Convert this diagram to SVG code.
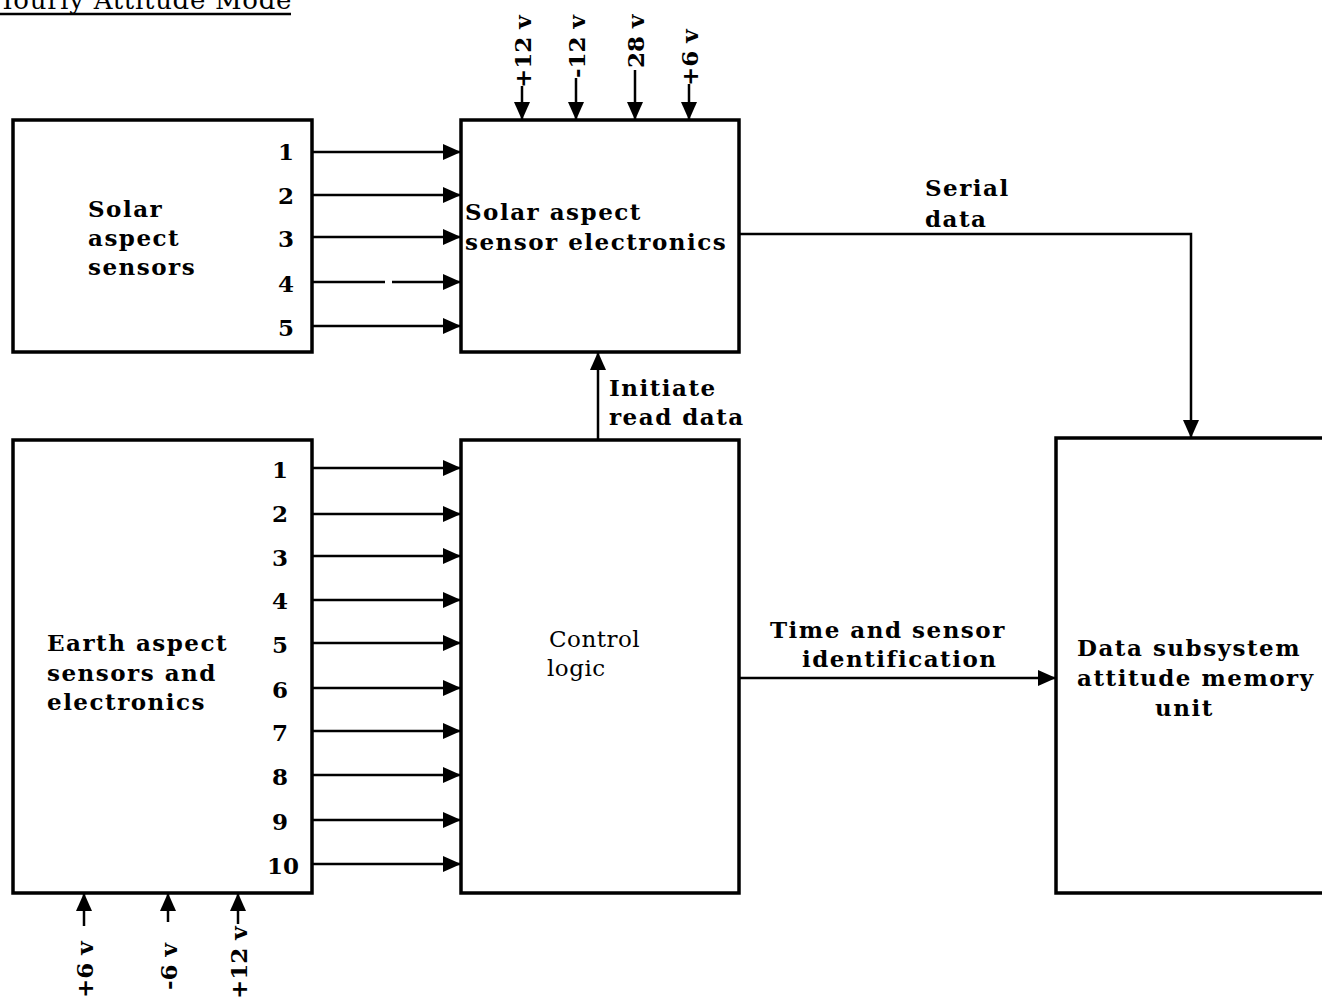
<svg xmlns="http://www.w3.org/2000/svg" width="1322" height="1000" viewBox="0 0 1322 1000">
<defs>
<marker id="ah" viewBox="0 0 18 16" refX="18" refY="8" markerWidth="18" markerHeight="16" markerUnits="userSpaceOnUse" orient="auto">
<path d="M0,0 L18,8 L0,16 Z" fill="#000"/>
</marker>
</defs>
<style>
.box{fill:#fff;stroke:#000;stroke-width:3.5}
.ln{fill:none;stroke:#000;stroke-width:2.5}
.ar{fill:none;stroke:#000;stroke-width:2.5;marker-end:url(#ah)}
.t{font-family:"DejaVu Serif","Liberation Serif",serif;font-size:23px;font-weight:bold;fill:#000;letter-spacing:1.5px}
.v{font-family:"DejaVu Serif","Liberation Serif",serif;font-size:23px;font-weight:bold;fill:#000}
.c{font-family:"DejaVu Serif","Liberation Serif",serif;font-size:23px;fill:#000;letter-spacing:0.5px}
.h{font-family:"DejaVu Serif","Liberation Serif",serif;font-size:26px;fill:#000;letter-spacing:0.7px}
.n{font-family:"DejaVu Serif","Liberation Serif",serif;font-size:23px;font-weight:bold;fill:#000;text-anchor:end}
</style>
<rect width="1322" height="1000" fill="#fff"/>
<g id="title">
<text class="h" x="-10" y="9">Hourly Attitude Mode</text>
<line class="ln" x1="0" y1="14" x2="291" y2="14"/>
</g>
<g id="solar-sensors">
<rect class="box" x="13" y="120" width="299" height="232"/>
<text class="t" x="88" y="217">Solar</text>
<text class="t" x="88" y="246">aspect</text>
<text class="t" x="88" y="275">sensors</text>
<text class="n" x="294" y="160">1</text>
<text class="n" x="294" y="204">2</text>
<text class="n" x="294" y="247">3</text>
<text class="n" x="294" y="292">4</text>
<text class="n" x="294" y="336">5</text>
</g>
<g id="solar-electronics">
<rect class="box" x="461" y="120" width="278" height="232"/>
<text class="t" x="465" y="220">Solar aspect</text>
<text class="t" x="465" y="250">sensor electronics</text>
</g>
<g id="earth-sensors">
<rect class="box" x="13" y="440" width="299" height="453"/>
<text class="t" x="47" y="651">Earth aspect</text>
<text class="t" x="47" y="681">sensors and</text>
<text class="t" x="47" y="710">electronics</text>
<text class="n" x="288" y="478">1</text>
<text class="n" x="288" y="522">2</text>
<text class="n" x="288" y="566">3</text>
<text class="n" x="288" y="609">4</text>
<text class="n" x="288" y="653">5</text>
<text class="n" x="288" y="698">6</text>
<text class="n" x="288" y="741">7</text>
<text class="n" x="288" y="785">8</text>
<text class="n" x="288" y="830">9</text>
<text class="n" x="299" y="874">10</text>
</g>
<g id="control-logic">
<rect class="box" x="461" y="440" width="278" height="453"/>
<text class="c" x="549" y="647">Control</text>
<text class="c" x="547" y="676">logic</text>
</g>
<g id="data-subsystem">
<rect class="box" x="1056" y="438" width="290" height="455"/>
<text class="t" x="1077" y="656">Data subsystem</text>
<text class="t" x="1077" y="686">attitude memory</text>
<text class="t" x="1155" y="716">unit</text>
</g>
<g id="connectors">
<line class="ar" x1="312" y1="152" x2="461" y2="152"/>
<line class="ar" x1="312" y1="195" x2="461" y2="195"/>
<line class="ar" x1="312" y1="237" x2="461" y2="237"/>
<line class="ln" x1="312" y1="282" x2="385" y2="282"/>
<line class="ar" x1="392" y1="282" x2="461" y2="282"/>
<line class="ar" x1="312" y1="326" x2="461" y2="326"/>
<line class="ar" x1="312" y1="468" x2="461" y2="468"/>
<line class="ar" x1="312" y1="514" x2="461" y2="514"/>
<line class="ar" x1="312" y1="556" x2="461" y2="556"/>
<line class="ar" x1="312" y1="600" x2="461" y2="600"/>
<line class="ar" x1="312" y1="643" x2="461" y2="643"/>
<line class="ar" x1="312" y1="688" x2="461" y2="688"/>
<line class="ar" x1="312" y1="731" x2="461" y2="731"/>
<line class="ar" x1="312" y1="775" x2="461" y2="775"/>
<line class="ar" x1="312" y1="820" x2="461" y2="820"/>
<line class="ar" x1="312" y1="864" x2="461" y2="864"/>
<line class="ar" x1="522" y1="86" x2="522" y2="120"/>
<line class="ar" x1="576" y1="78" x2="576" y2="120"/>
<line class="ar" x1="635" y1="70" x2="635" y2="120"/>
<line class="ar" x1="689" y1="84" x2="689" y2="120"/>
<line class="ar" x1="84" y1="926" x2="84" y2="893"/>
<line class="ar" x1="168" y1="922" x2="168" y2="893"/>
<line class="ar" x1="238" y1="924" x2="238" y2="893"/>
<line class="ar" x1="598" y1="440" x2="598" y2="352"/>
<polyline class="ar" points="739,234 1191,234 1191,438"/>
<line class="ar" x1="739" y1="678" x2="1056" y2="678"/>
</g>
<g id="labels">
<text class="v" transform="translate(531,88) rotate(-90)">+12 v</text>
<text class="v" transform="translate(585,78) rotate(-90)">-12 v</text>
<text class="v" transform="translate(644,68) rotate(-90)">28 v</text>
<text class="v" transform="translate(698,86) rotate(-90)">+6 v</text>
<text class="v" transform="translate(93,998) rotate(-90)">+6 v</text>
<text class="v" transform="translate(177,990) rotate(-90)">-6 v</text>
<text class="v" transform="translate(247,999) rotate(-90)">+12 v</text>
<text class="t" x="925" y="196">Serial</text>
<text class="t" x="925" y="227">data</text>
<text class="t" x="609" y="396">Initiate</text>
<text class="t" x="609" y="425">read data</text>
<text class="t" x="770" y="638">Time and sensor</text>
<text class="t" x="802" y="667">identification</text>
</g>
</svg>
